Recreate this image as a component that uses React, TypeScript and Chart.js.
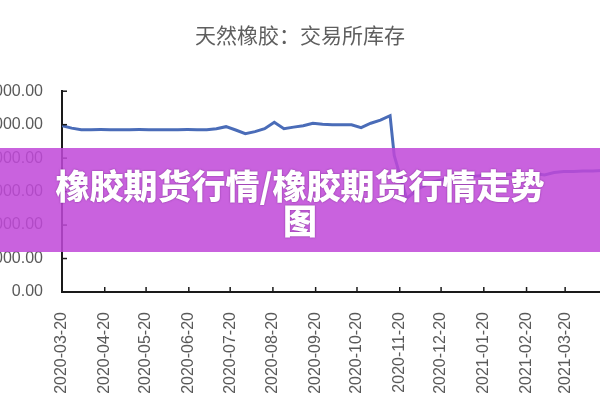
import { useEffect, useRef } from "react";
import type { ReactElement } from "react";
import { Chart, registerables } from "chart.js";
import type { Plugin } from "chart.js";

Chart.register(...registerables);

const chartTitle = "天然橡胶：交易所库存";
const bannerLines = ["橡胶期货行情/橡胶期货行情走势", "图"];

// weekly exchange stock readings (tons)
const dates = [
  "2020-03-20", "2020-03-27", "2020-04-03", "2020-04-10", "2020-04-17",
  "2020-04-24", "2020-05-01", "2020-05-08", "2020-05-15", "2020-05-22",
  "2020-05-29", "2020-06-05", "2020-06-12", "2020-06-19", "2020-06-26",
  "2020-07-03", "2020-07-10", "2020-07-17", "2020-07-24", "2020-07-31",
  "2020-08-07", "2020-08-14", "2020-08-21", "2020-08-28", "2020-09-04",
  "2020-09-11", "2020-09-18", "2020-09-25", "2020-10-02", "2020-10-09",
  "2020-10-16", "2020-10-23", "2020-10-30", "2020-11-06", "2020-11-13",
  "2020-11-16", "2020-11-25", "2020-12-04", "2020-12-11", "2020-12-18",
  "2020-12-25", "2021-01-01", "2021-01-08", "2021-01-15", "2021-01-22",
  "2021-01-29", "2021-02-05", "2021-02-12", "2021-02-19", "2021-02-26",
  "2021-03-05", "2021-03-12", "2021-03-19", "2021-03-26", "2021-04-02",
  "2021-04-09", "2021-04-16",
];
const stock = [
  248500, 244800, 242500, 242500, 242600,
  242500, 242400, 242500, 242600, 242500,
  242500, 242400, 242500, 242600, 242500,
  242500, 244000, 247000, 242000, 236600,
  239600, 244000, 253700, 244000, 246300,
  248500, 252200, 250700, 250000, 250000,
  249800, 245500, 252200, 256700, 263400,
  203900, 139900, 154800, 162200, 166700,
  169600, 171100, 172600, 173300, 174100,
  174800, 175600, 175600, 175800, 177100,
  175000, 178600, 180000, 180100, 180800,
  180800, 181500,
];

const xTickLabels = [
  "2020-03-20", "2020-04-20", "2020-05-20", "2020-06-20", "2020-07-20",
  "2020-08-20", "2020-09-20", "2020-10-20", "2020-11-20", "2020-12-20",
  "2021-01-20", "2021-02-20", "2021-03-20", "2021-04-20",
];
const yTickValues = [0, 50000, 100000, 150000, 200000, 250000, 300000];

const START = Date.parse(xTickLabels[0]);
const toDay = (d: string): number =>
  Math.round((Date.parse(d) - START) / 86400000);

const axisFont = { family: "'Liberation Sans', Arial, sans-serif", size: 16 };

// short tick marks drawn inside the plot, like the source chart
const innerTicks: Plugin<"line"> = {
  id: "innerTicks",
  afterDraw(chart) {
    const { ctx, chartArea, scales } = chart;
    ctx.save();
    ctx.strokeStyle = "#1a1a1a";
    ctx.lineWidth = 1.5;
    scales.x.ticks.forEach((t) => {
      const px = scales.x.getPixelForValue(t.value);
      if (px > chartArea.right) return;
      ctx.beginPath();
      ctx.moveTo(px, chartArea.bottom);
      ctx.lineTo(px, chartArea.bottom - 5);
      ctx.stroke();
    });
    scales.y.ticks.forEach((t) => {
      const py = scales.y.getPixelForValue(t.value);
      ctx.beginPath();
      ctx.moveTo(chartArea.left, py);
      ctx.lineTo(chartArea.left + 5, py);
      ctx.stroke();
    });
    ctx.restore();
  },
};

const StockChart = (): ReactElement => {
  const canvasRef = useRef<HTMLCanvasElement | null>(null);
  const chartRef = useRef<Chart | null>(null);

  useEffect(() => {
    if (!canvasRef.current) return;
    if (chartRef.current) chartRef.current.destroy();

    const tickDays = xTickLabels.map(toDay);

    chartRef.current = new Chart(canvasRef.current, {
      type: "line",
      data: {
        datasets: [
          {
            label: chartTitle,
            data: dates.map((d, i) => ({ x: toDay(d), y: stock[i] })),
            borderColor: "#4a6cb8",
            borderWidth: 3,
            pointRadius: 0,
            tension: 0,
          },
        ],
      },
      options: {
        animation: false,
        responsive: true,
        maintainAspectRatio: false,
        layout: { padding: { left: 24, right: 31, top: 0, bottom: 0 } },
        plugins: {
          legend: { display: false },
          tooltip: { enabled: false },
          title: {
            display: true,
            text: chartTitle,
            color: "#5f5f5f",
            font: { family: "'Noto Sans CJK SC', sans-serif", size: 21, weight: "normal" },
            padding: { top: 22, bottom: 44 },
          },
        },
        scales: {
          x: {
            type: "linear",
            min: 0,
            max: 395,
            afterBuildTicks: (scale) => {
              scale.ticks = tickDays.map((v) => ({ value: v }));
            },
            afterFit: (scale) => {
              scale.height = 108;
            },
            ticks: {
              autoSkip: false,
              minRotation: 90,
              maxRotation: 90,
              padding: 20,
              color: "#595959",
              font: axisFont,
              callback: (v) => {
                const i = tickDays.indexOf(Number(v));
                return i >= 0 ? xTickLabels[i] : "";
              },
            },
            grid: { display: true, drawOnChartArea: false, drawTicks: false },
            border: { display: true, color: "#1a1a1a", width: 2 },
          },
          y: {
            min: 0,
            max: 300000,
            afterBuildTicks: (scale) => {
              scale.ticks = yTickValues.map((v) => ({ value: v }));
            },
            afterFit: (scale) => {
              scale.width = 78;
            },
            ticks: {
              padding: 19,
              color: "#595959",
              font: axisFont,
              callback: (v) => Number(v).toFixed(2),
            },
            grid: { display: true, drawOnChartArea: false, drawTicks: false },
            border: { display: true, color: "#1a1a1a", width: 2 },
          },
        },
      },
      plugins: [innerTicks],
    }) as Chart;

    return () => {
      if (chartRef.current) {
        chartRef.current.destroy();
        chartRef.current = null;
      }
    };
  }, []);

  return (
    <div style={{ position: "absolute", left: -40, top: 0, width: 687, height: 400 }}>
      <canvas ref={canvasRef} />
    </div>
  );
};

export default function App(): ReactElement {
  return (
    <div
      style={{
        position: "fixed",
        inset: 0,
        width: 600,
        height: 400,
        overflow: "hidden",
        background: "#ffffff",
      }}
    >
      <StockChart />
      <div
        style={{
          position: "absolute",
          left: 0,
          top: 148,
          width: 600,
          height: 104,
          background: "rgba(192, 72, 216, 0.86)",
          display: "flex",
          flexDirection: "column",
          alignItems: "center",
          justifyContent: "center",
          paddingTop: 4,
          boxSizing: "border-box",
          color: "#ffffff",
          fontFamily: "'Noto Sans CJK SC', sans-serif",
          fontWeight: 900,
          fontSize: 34,
          lineHeight: "35px",
          textAlign: "center",
          textShadow: "0 0 2px rgba(70, 0, 90, 0.55)",
        }}
      >
        {bannerLines.map((t) => (
          <div key={t}>{t}</div>
        ))}
      </div>
    </div>
  );
}
